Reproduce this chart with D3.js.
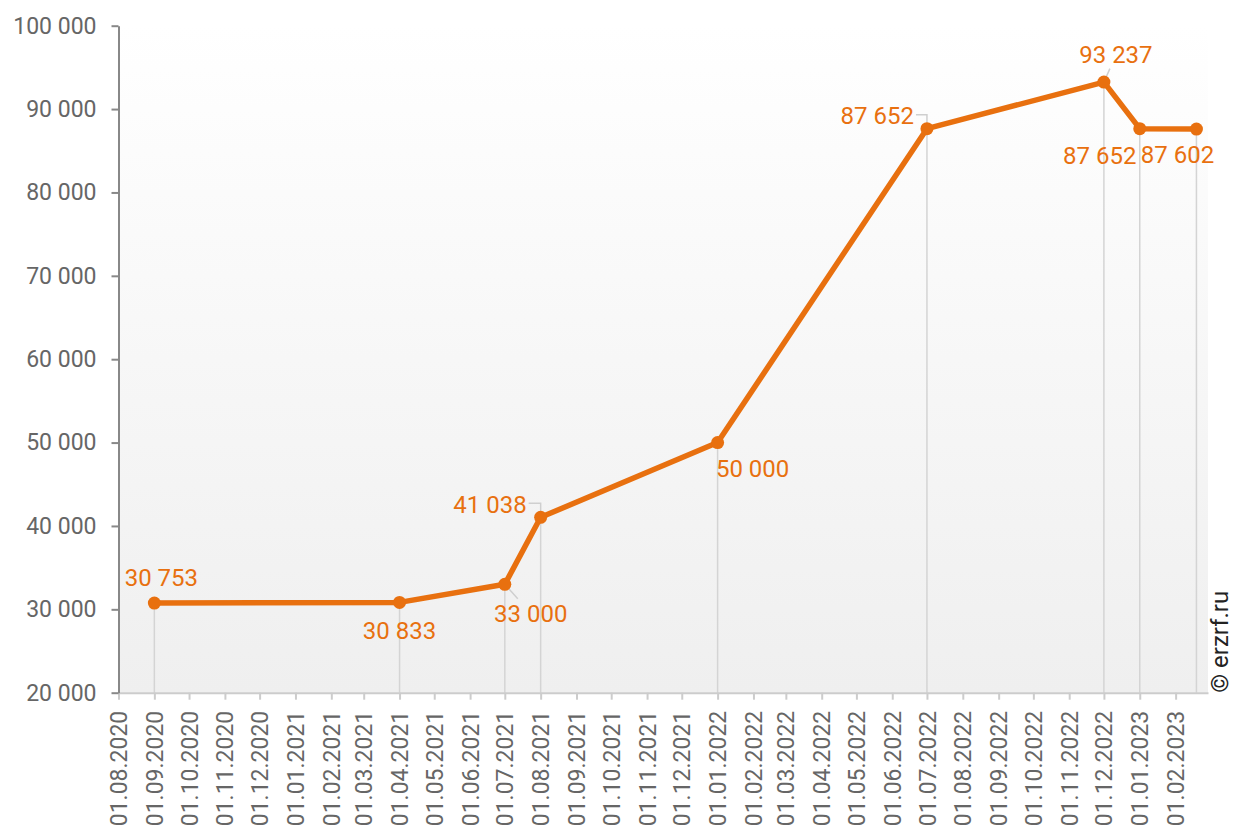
<!DOCTYPE html>
<html>
<head>
<meta charset="utf-8">
<script src="https://cdn.jsdelivr.net/npm/d3@7"></script>
<style>
  body { margin: 0; background: #fff; }
  svg { display: block; font-family: Roboto, "Noto Sans", sans-serif; }
</style>
</head>
<body>
<svg id="chart" width="1235" height="830"></svg>
<script>
// data points (date, value)
const dates = ["01.09.2020", "01.04.2021", "01.07.2021", "01.08.2021", "01.01.2022",
               "01.07.2022", "01.12.2022", "01.01.2023", "19.02.2023"];
const values = [30753, 30833, 33000, 41038, 50000, 87652, 93237, 87652, 87602];

// label placement relative to point: [dx, dy, anchor, leader]
const labelPos = [
  [7, -25, "middle", null],
  [0, 28, "middle", null],
  [26, 29, "middle", "diag"],
  [-14, -13, "end", "elbow"],
  [35, 26, "middle", null],
  [-13, -13, "end", "elbow"],
  [12, -27, "middle", "diag"],
  [-40, 27, "middle", null],
  [-19, 26, "middle", null]
];

const yTicks = [20000, 30000, 40000, 50000, 60000, 70000, 80000, 90000, 100000];

const parse = d3.timeParse("%d.%m.%Y");
const fmtDate = d3.timeFormat("%d.%m.%Y");
const ru = d3.formatLocale({ decimal: ",", thousands: " ", grouping: [3], currency: ["", ""] });
const fmt = ru.format(",d");

const orange = "#E8700F";
const font = 'Roboto, "Noto Sans", sans-serif';
const svg = d3.select("#chart");
const m = { left: 118.5, right: 1208, top: 25.7, bottom: 692.7 };

const x = d3.scaleTime()
  .domain([parse("01.08.2020"), parse("01.03.2023")])
  .range([m.left, m.right]);
const y = d3.scaleLinear().domain([20000, 100000]).range([m.bottom, m.top]);

const data = dates.map((d, i) => ({ date: parse(d), value: values[i], pos: labelPos[i] }));

// background gradient
const grad = svg.append("defs").append("linearGradient")
  .attr("id", "bg").attr("x1", 0).attr("y1", 0).attr("x2", 0).attr("y2", 1);
grad.append("stop").attr("offset", "0%").attr("stop-color", "#ffffff");
grad.append("stop").attr("offset", "100%").attr("stop-color", "#efefef");

svg.append("rect")
  .attr("x", m.left).attr("y", m.top)
  .attr("width", m.right - m.left).attr("height", m.bottom - m.top)
  .attr("fill", "url(#bg)");

// drop lines
svg.append("g").selectAll("line").data(data).join("line")
  .attr("x1", d => x(d.date)).attr("x2", d => x(d.date))
  .attr("y1", d => y(d.value)).attr("y2", m.bottom)
  .attr("stroke", "#d4d4d4").attr("stroke-width", 1.5);

// x axis
const months = d3.timeMonth.range(parse("01.08.2020"), parse("01.03.2023"));
const xAxis = svg.append("g")
  .attr("transform", `translate(0,${m.bottom})`)
  .call(d3.axisBottom(x).tickValues(months).tickFormat(fmtDate).tickSize(7).tickSizeOuter(0))
  .attr("font-family", font);
xAxis.select(".domain").attr("stroke", "#cccccc").attr("stroke-width", 2);
xAxis.selectAll(".tick line").attr("stroke", "#cccccc").attr("stroke-width", 2);
xAxis.selectAll(".tick text")
  .attr("fill", "#666")
  .style("font-size", "23px")
  .attr("transform", "rotate(-90)")
  .attr("text-anchor", "end")
  .attr("x", -18).attr("y", 0).attr("dy", "0.35em");

// y axis
const yAxis = svg.append("g")
  .attr("transform", `translate(${m.left},0)`)
  .call(d3.axisLeft(y).tickValues(yTicks).tickFormat(fmt).tickSize(7).tickSizeOuter(0))
  .attr("font-family", font);
yAxis.select(".domain").attr("stroke", "#888").attr("stroke-width", 2);
yAxis.selectAll(".tick text")
  .attr("fill", "#666")
  .style("font-size", "23px")
  .attr("x", -22);
yAxis.selectAll(".tick line").attr("stroke", "#888").attr("stroke-width", 2);

// leader lines
svg.append("g").selectAll("path").data(data.filter(d => d.pos[3])).join("path")
  .attr("fill", "none").attr("stroke", "#cfcfcf").attr("stroke-width", 1.5)
  .attr("d", d => {
    const px = x(d.date), py = y(d.value);
    if (d.pos[3] === "elbow") return `M${px + d.pos[0] + 2},${py + d.pos[1] - 1}H${px}V${py}`;
    return `M${px},${py}L${px + d.pos[0] * 0.5},${py + d.pos[1] * 0.5}`;
  });

// line
svg.append("path").datum(data)
  .attr("fill", "none").attr("stroke", orange).attr("stroke-width", 5.5)
  .attr("stroke-linejoin", "round")
  .attr("d", d3.line().x(d => x(d.date)).y(d => y(d.value)));

svg.append("g").selectAll("circle").data(data).join("circle")
  .attr("cx", d => x(d.date)).attr("cy", d => y(d.value)).attr("r", 6.5)
  .attr("fill", orange);

// value labels
svg.append("g").selectAll("text").data(data).join("text")
  .attr("x", d => x(d.date) + d.pos[0])
  .attr("y", d => y(d.value) + d.pos[1])
  .attr("dy", "0.35em")
  .attr("text-anchor", d => d.pos[2])
  .attr("fill", orange)
  .style("font-size", "24px")
  .text(d => fmt(d.value));

// copyright
svg.append("text")
  .attr("transform", `translate(1235,${m.bottom}) rotate(-90)`)
  .attr("dy", "-0.3em")
  .attr("fill", "#222")
  .style("font-size", "24px")
  .text("© erzrf.ru");
</script>
</body>
</html>
